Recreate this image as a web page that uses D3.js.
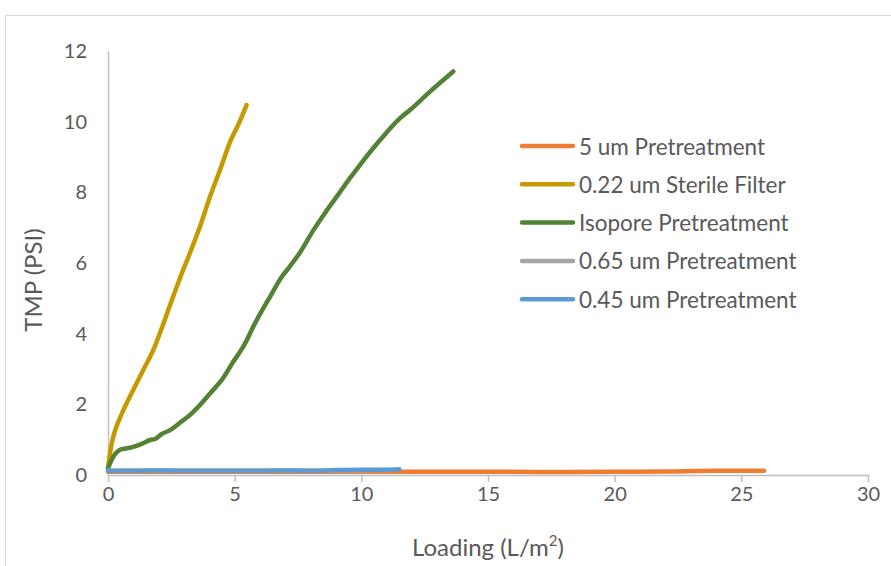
<!DOCTYPE html>
<html>
<head>
<meta charset="utf-8">
<script src="https://cdn.jsdelivr.net/npm/d3@7/dist/d3.min.js"></script>
<style>
  html, body { margin: 0; padding: 0; background: #fff; }
  svg { display: block; }
  text { font-family: Lato, "Open Sans", sans-serif; fill: #595959; }
</style>
</head>
<body>
<svg id="chart" width="891" height="566"></svg>
<script>
// ---- data ----
const seriesNames = ["5 um Pretreatment", "0.22 um Sterile Filter", "Isopore Pretreatment", "0.65 um Pretreatment", "0.45 um Pretreatment"];
const seriesColors = ["#ED7D31", "#C49A00", "#548235", "#A5A5A5", "#5B9BD5"];

const pre5X = [0, 2, 4, 6, 8, 10, 12, 14, 16, 18, 20, 22, 24, 25.9];
const pre5Y = [0.09, 0.09, 0.09, 0.09, 0.09, 0.09, 0.09, 0.09, 0.09, 0.085, 0.09, 0.1, 0.12, 0.12];

const sterileX = [0, 0.08, 0.21, 0.41, 0.67, 1.0, 1.39, 1.79, 2.12, 2.45, 2.84, 3.2, 3.63, 4.03, 4.42, 4.82, 5.14, 5.47];
const sterileY = [0.19, 0.62, 1.09, 1.51, 1.93, 2.41, 2.97, 3.54, 4.15, 4.81, 5.57, 6.22, 7.03, 7.88, 8.63, 9.43, 9.91, 10.47];

const isoporeX = [0, 0.21, 0.54, 0.93, 1.33, 1.66, 1.86, 2.12, 2.45, 2.84, 3.24, 3.63, 4.03, 4.49, 4.95, 5.34, 5.8, 6.4, 6.86, 7.12, 7.58, 8.11, 8.56, 9.1, 9.55, 9.95, 10.74, 11.53, 11.92, 12.71, 13.63];
const isoporeY = [0.19, 0.52, 0.73, 0.78, 0.88, 0.99, 1.02, 1.16, 1.27, 1.48, 1.7, 1.98, 2.31, 2.69, 3.21, 3.63, 4.29, 5.05, 5.61, 5.85, 6.3, 6.93, 7.41, 7.95, 8.4, 8.78, 9.48, 10.1, 10.33, 10.85, 11.42];

const pre065X = [0, 2, 4, 6, 8, 10, 11];
const pre065Y = [0.12, 0.12, 0.12, 0.12, 0.12, 0.13, 0.14];

const pre045X = [0, 1, 2, 3, 4, 5, 6, 7, 8, 9, 10, 11, 11.5];
const pre045Y = [0.12, 0.12, 0.13, 0.12, 0.12, 0.12, 0.12, 0.13, 0.12, 0.14, 0.15, 0.15, 0.16];

const xTicks = [0, 5, 10, 15, 20, 25, 30];
const yTicks = [0, 2, 4, 6, 8, 10, 12];

const seriesData = [
  d3.zip(pre5X, pre5Y),
  d3.zip(sterileX, sterileY),
  d3.zip(isoporeX, isoporeY),
  d3.zip(pre065X, pre065Y),
  d3.zip(pre045X, pre045Y)
];

// ---- layout ----
const svg = d3.select("#chart");
const W = 891, H = 566;
const mLeft = 108, mRight = 868, mTop = 51, mBottom = 475;
const FONT = "Lato, 'Open Sans', sans-serif";

// outer chart border
svg.append("rect")
  .attr("x", 5.5).attr("y", 15.5)
  .attr("width", W + 10).attr("height", H + 10)
  .attr("fill", "none").attr("stroke", "#d9d9d9").attr("stroke-width", 1);

const x = d3.scaleLinear().domain([0, 30]).range([mLeft, mRight]);
const y = d3.scaleLinear().domain([0, 12]).range([mBottom, mTop]);

// x axis
const xAxis = svg.append("g")
  .attr("transform", `translate(0,${mBottom})`)
  .call(d3.axisBottom(x).tickValues(xTicks).tickSize(7).tickPadding(5).tickSizeOuter(0));
xAxis.select(".domain").attr("stroke", "#bfbfbf").attr("stroke-width", 1.5);
xAxis.selectAll(".tick line").attr("stroke", "#bfbfbf").attr("stroke-width", 1.5);
xAxis.selectAll(".tick text").attr("font-size", 20).attr("fill", "#595959")
  .style("font-family", FONT);

// y axis
const yAxis = svg.append("g")
  .attr("transform", `translate(${mLeft},0)`)
  .call(d3.axisLeft(y).tickValues(yTicks).tickSize(0).tickPadding(21).tickSizeOuter(0));
yAxis.select(".domain").attr("stroke", "#bfbfbf").attr("stroke-width", 1.5);
yAxis.selectAll(".tick text").attr("font-size", 20).attr("fill", "#595959")
  .style("font-family", FONT);

// lines
const line = d3.line().x(d => x(d[0])).y(d => y(d[1])).curve(d3.curveMonotoneX);
svg.append("g").selectAll("path")
  .data(seriesData)
  .join("path")
  .attr("d", line)
  .attr("fill", "none")
  .attr("stroke", (d, i) => seriesColors[i])
  .attr("stroke-width", 4.5)
  .attr("stroke-linecap", "round")
  .attr("stroke-linejoin", "round");

// axis titles
svg.append("text")
  .attr("transform", `translate(36,280) rotate(-90)`)
  .attr("text-anchor", "middle")
  .attr("dominant-baseline", "middle")
  .attr("font-size", 24)
  .text("TMP (PSI)");

const xt = svg.append("text")
  .attr("x", 488)
  .attr("y", 556)
  .attr("text-anchor", "middle")
  .attr("font-size", 24);
xt.append("tspan").text("Loading (L/m");
xt.append("tspan").attr("font-size", 15).attr("dy", -10).text("2");
xt.append("tspan").attr("dy", 10).text(")");

// legend
const legY0 = 146, legDy = 38.3;
const leg = svg.append("g");
seriesNames.forEach((name, i) => {
  const yy = legY0 + i * legDy;
  leg.append("line")
    .attr("x1", 522).attr("x2", 573).attr("y1", yy).attr("y2", yy)
    .attr("stroke", seriesColors[i]).attr("stroke-width", 4.5).attr("stroke-linecap", "round");
  leg.append("text")
    .attr("x", 579).attr("y", yy)
    .attr("dominant-baseline", "central")
    .attr("font-size", 22.5)
    .text(name);
});
</script>
</body>
</html>
